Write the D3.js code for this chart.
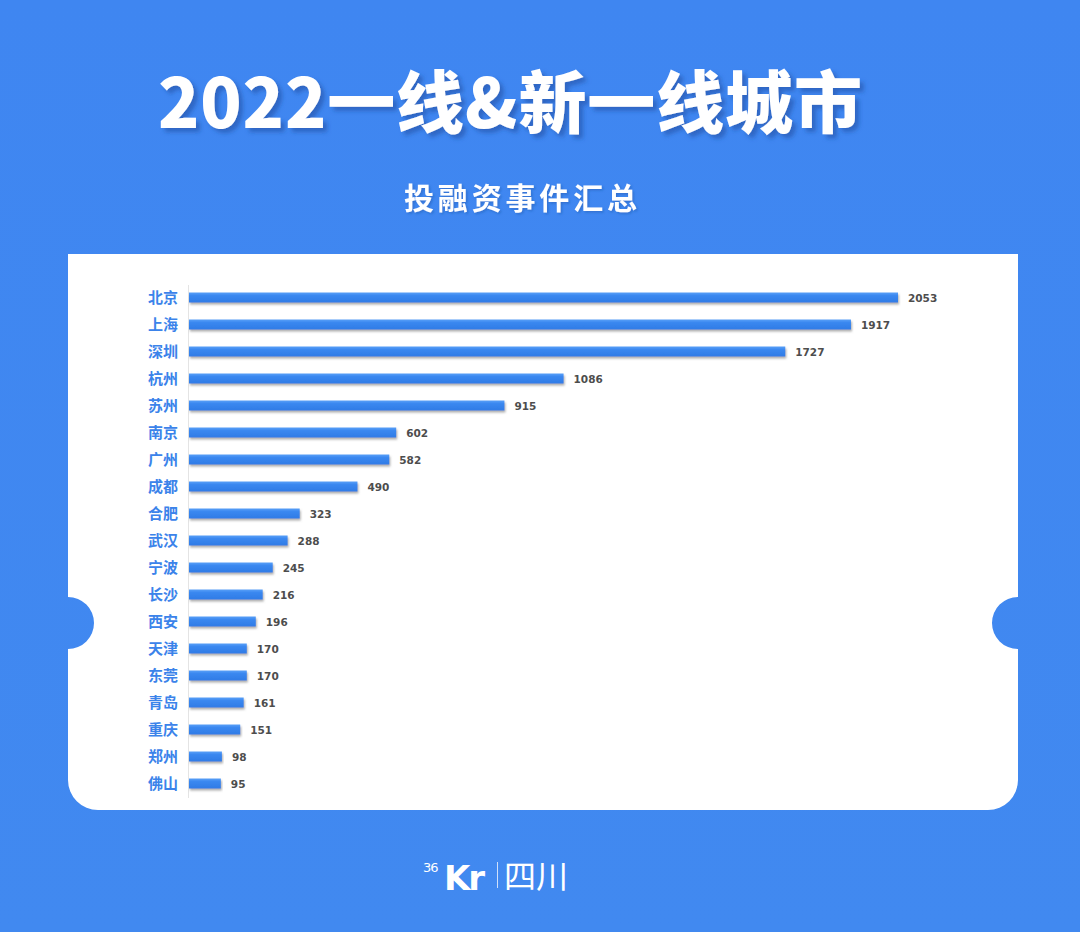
<!DOCTYPE html>
<html><head><meta charset="utf-8">
<script src="https://cdn.jsdelivr.net/npm/d3@7"></script>
<style>html,body{margin:0;padding:0;background:#4088f0;}svg{display:block;}</style>
</head><body>
<svg id="c" width="1080" height="932"></svg>
<script>
const titleText = "2022一线&新一线城市";
const subtitleText = "投融资事件汇总";
const cities = ["北京","上海","深圳","杭州","苏州","南京","广州","成都","合肥","武汉","宁波","长沙","西安","天津","东莞","青岛","重庆","郑州","佛山"];
const counts = [2053,1917,1727,1086,915,602,582,490,323,288,245,216,196,170,170,161,151,98,95];

const svg = d3.select("#c");
const W = 1080, H = 932;
const font = "'Noto Sans CJK SC','Noto Sans',sans-serif";

const defs = svg.append("defs");
const bg = defs.append("linearGradient").attr("id","bg").attr("x1",0).attr("y1",0).attr("x2",0).attr("y2",1);
bg.append("stop").attr("offset","0%").attr("stop-color","#3f86f1");
bg.append("stop").attr("offset","100%").attr("stop-color","#4189f0");
const bar = defs.append("linearGradient").attr("id","bar").attr("x1",0).attr("y1",0).attr("x2",0).attr("y2",1);
bar.append("stop").attr("offset","0%").attr("stop-color","#5aa0f7");
bar.append("stop").attr("offset","30%").attr("stop-color","#3a88f0");
bar.append("stop").attr("offset","100%").attr("stop-color","#2f7be6");
const sh = defs.append("filter").attr("id","tsh").attr("x","-10%").attr("y","-20%").attr("width","130%").attr("height","150%");
sh.append("feDropShadow").attr("dx",4).attr("dy",4).attr("stdDeviation",2).attr("flood-color","#1d4d9e").attr("flood-opacity",0.55);
const bsh = defs.append("filter").attr("id","bsh").attr("x","-5%").attr("y","-50%").attr("width","110%").attr("height","250%");
bsh.append("feDropShadow").attr("dx",1).attr("dy",2).attr("stdDeviation",0.8).attr("flood-color","#777").attr("flood-opacity",0.6);
const ssh = defs.append("filter").attr("id","ssh");
ssh.append("feDropShadow").attr("dx",1.5).attr("dy",1.5).attr("stdDeviation",1).attr("flood-color","#1d4d9e").attr("flood-opacity",0.4);

svg.append("rect").attr("width",W).attr("height",H).attr("fill","url(#bg)");

// card with notches
const L = 68, R = 1018, T = 254, B = 810, nc = 623, nr = 26, cr = 30;
const p = d3.path();
p.moveTo(L, T);
p.lineTo(R, T);
p.lineTo(R, nc - nr);
p.arc(R, nc, nr, -Math.PI/2, Math.PI/2, true);
p.lineTo(R, B - cr);
p.arcTo(R, B, R - cr, B, cr);
p.lineTo(L + cr, B);
p.arcTo(L, B, L, B - cr, cr);
p.lineTo(L, nc + nr);
p.arc(L, nc, nr, Math.PI/2, -Math.PI/2, true);
p.closePath();
svg.append("path").attr("d", p.toString()).attr("fill","#ffffff");

// title
svg.append("text").text(titleText)
  .attr("x", 158).attr("y", 128)
  .attr("font-family", font).attr("font-weight", 900).attr("font-size", 68)
  .attr("fill", "#ffffff").attr("textLength", 704).attr("lengthAdjust","spacing")
  .attr("filter","url(#tsh)");
svg.append("text").text(subtitleText)
  .attr("x", 404).attr("y", 209)
  .attr("font-family", font).attr("font-weight", 700).attr("font-size", 30)
  .attr("fill", "#ffffff").attr("textLength", 233).attr("lengthAdjust","spacing")
  .attr("filter","url(#ssh)");

// scales
const x = d3.scaleLinear().domain([0, 2053]).range([188, 898]);
const y = d3.scaleBand().domain(cities).range([284.5, 797.5]);

const g = svg.append("g");
const axis = d3.axisLeft(y).tickSize(0).tickPadding(10);
const ag = g.append("g").attr("transform", "translate(188,0)").call(axis);
ag.select(".domain").attr("stroke", "#e4e4e4").attr("stroke-width", 1);
ag.selectAll("text").attr("font-family", font).attr("font-size", 15).attr("font-weight", 600)
  .attr("fill", "#3b83ea");

const bh = 10;
g.selectAll("rect.bar").data(cities).join("rect").attr("class","bar")
  .attr("x", x(0) + 1)
  .attr("y", d => y(d) + y.bandwidth()/2 - bh/2 - 0.5)
  .attr("width", (d,i) => x(counts[i]) - x(0) - 1)
  .attr("height", bh)
  .attr("fill", "url(#bar)")
  .attr("filter", "url(#bsh)");

g.selectAll("text.val").data(cities).join("text").attr("class","val")
  .attr("x", (d,i) => x(counts[i]) + 10)
  .attr("y", d => y(d) + y.bandwidth()/2)
  .attr("dy", "0.36em")
  .attr("font-family", "'DejaVu Sans','Noto Sans',sans-serif").attr("font-weight", 700).attr("font-size", 10.5)
  .attr("fill", "#4d4d4d")
  .text((d,i) => counts[i]);

// logo
const lg = svg.append("g").attr("fill", "#ffffff");
lg.append("text").text("36").attr("x", 423).attr("y", 872).attr("font-family", "'DejaVu Sans',sans-serif").attr("font-size", 13).attr("font-weight", 400).attr("letter-spacing", -1);
lg.append("text").text("Kr").attr("x", 444).attr("y", 890).attr("font-family", "'DejaVu Sans',sans-serif").attr("font-size", 34).attr("font-weight", 700).attr("letter-spacing", -2);
lg.append("rect").attr("x", 497).attr("y", 862).attr("width", 1).attr("height", 26).attr("fill", "#cfe0fb");
lg.append("text").text("四川").attr("x", 504).attr("y", 888).attr("font-family", font).attr("font-size", 32).attr("font-weight", 400);
</script>
</body></html>
